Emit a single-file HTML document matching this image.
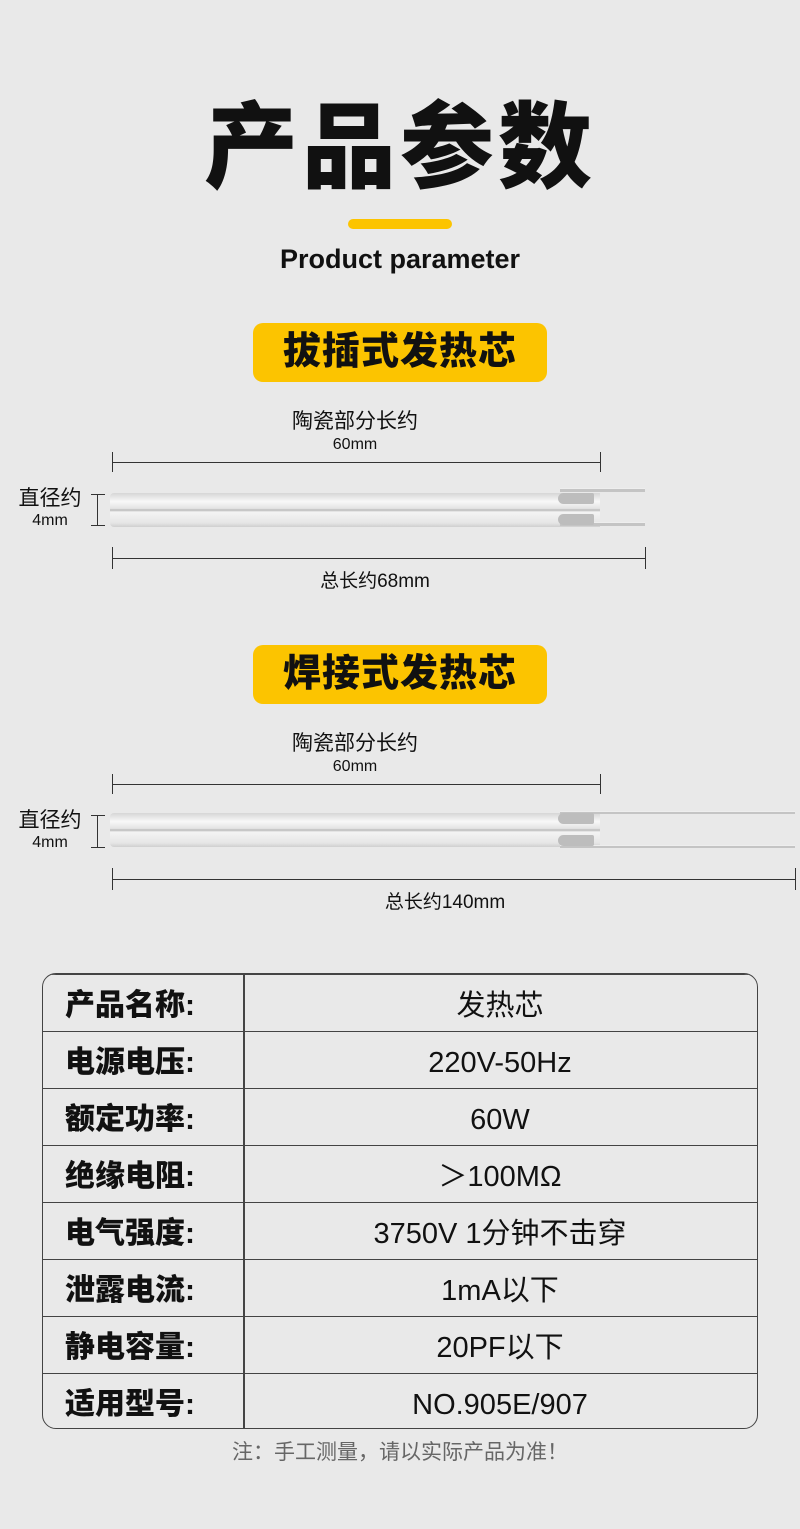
<!DOCTYPE html>
<html><head><meta charset="utf-8"><style>
body{margin:0;width:800px;height:1529px;background:#e9e9e9;position:relative;overflow:hidden;font-family:"Liberation Sans","Noto Sans CJK SC",sans-serif;color:#111}
.a{position:absolute}
.t{text-align:center}
.badge{position:absolute;left:253px;width:294px;height:59px;background:#fcc400;border-radius:10px;font-size:38px;font-weight:900;line-height:59px;text-align:center;letter-spacing:1px}
.hl{position:absolute;height:1px;background:#333}
.vl{position:absolute;width:1px;background:#333}
.rod{position:absolute;left:110px;width:490px;height:34px;background:linear-gradient(#d6d6d6,#f8f8f8 25%,#e2e2e2 46%,#b8b8b8 50%,#f4f4f4 56%,#e6e6e6 88%,#cfcfcf);border-radius:4px 0 0 4px}
.pin{position:absolute;height:3px;background:#c4c4c4;border-top:1px solid #eee}
.cap{position:absolute;width:36px;height:11px;background:#bdbdbd;border-radius:6px 2px 2px 6px}
.tbl{position:absolute;left:42px;top:973px;width:716px;height:456px;border:1.5px solid #444;border-radius:14px;box-sizing:border-box;overflow:hidden}
.row{position:absolute;left:0;width:100%;height:57px;border-top:1.5px solid #444;box-sizing:border-box}
.row:first-child{border-top:none}
.k{position:absolute;left:22px;top:3px;line-height:56px;font-size:30px;font-weight:900}
.v{position:absolute;left:200px;right:0;top:3px;line-height:56px;font-size:29px;text-align:center}
.div{position:absolute;left:200px;top:0;width:1.5px;height:100%;background:#444}
</style></head><body>
<div class="a t" style="left:0;width:800px;top:88px;font-size:94px;font-weight:900;line-height:120px;letter-spacing:4px">产品参数</div>
<div class="a" style="left:348px;top:219px;width:104px;height:10px;background:#fcc400;border-radius:5px"></div>
<div class="a t" style="left:0;width:800px;top:241px;font-size:27px;font-weight:bold;line-height:36px">Product parameter</div>

<div class="badge" style="top:323px">拔插式发热芯</div>
<div class="a t" style="left:255px;width:200px;top:408px;font-size:21px;line-height:28px">陶瓷部分长约</div>
<div class="a t" style="left:255px;width:200px;top:436px;font-size:16px">60mm</div>
<div class="hl" style="left:112px;top:462px;width:488px"></div>
<div class="vl" style="left:112px;top:452px;height:20px"></div>
<div class="vl" style="left:600px;top:452px;height:20px"></div>
<div class="a t" style="left:10px;width:80px;top:486px;font-size:21px;line-height:26px">直径约</div>
<div class="a t" style="left:10px;width:80px;top:512px;font-size:16px">4mm</div>
<div class="hl" style="left:91px;top:494px;width:14px"></div>
<div class="hl" style="left:91px;top:525px;width:14px"></div>
<div class="vl" style="left:97px;top:494px;height:31px"></div>
<div class="rod" style="top:493px"></div>
<div class="pin" style="left:560px;top:488px;width:85px"></div>
<div class="pin" style="left:560px;top:522px;width:85px"></div>
<div class="cap" style="left:558px;top:493px"></div>
<div class="cap" style="left:558px;top:514px"></div>
<div class="hl" style="left:112px;top:558px;width:534px"></div>
<div class="vl" style="left:112px;top:547px;height:22px"></div>
<div class="vl" style="left:645px;top:547px;height:22px"></div>
<div class="a t" style="left:275px;width:200px;top:570px;font-size:19px;line-height:24px">总长约68mm</div>

<div class="badge" style="top:645px">焊接式发热芯</div>
<div class="a t" style="left:255px;width:200px;top:730px;font-size:21px;line-height:28px">陶瓷部分长约</div>
<div class="a t" style="left:255px;width:200px;top:758px;font-size:16px">60mm</div>
<div class="hl" style="left:112px;top:784px;width:488px"></div>
<div class="vl" style="left:112px;top:774px;height:20px"></div>
<div class="vl" style="left:600px;top:774px;height:20px"></div>
<div class="a t" style="left:10px;width:80px;top:808px;font-size:21px;line-height:26px">直径约</div>
<div class="a t" style="left:10px;width:80px;top:834px;font-size:16px">4mm</div>
<div class="hl" style="left:91px;top:815px;width:14px"></div>
<div class="hl" style="left:91px;top:847px;width:14px"></div>
<div class="vl" style="left:97px;top:815px;height:32px"></div>
<div class="rod" style="top:813px"></div>
<div class="pin" style="left:560px;top:811px;width:235px;height:2px"></div>
<div class="pin" style="left:560px;top:845px;width:235px;height:2px"></div>
<div class="cap" style="left:558px;top:813px"></div>
<div class="cap" style="left:558px;top:835px"></div>
<div class="hl" style="left:112px;top:879px;width:684px"></div>
<div class="vl" style="left:112px;top:868px;height:22px"></div>
<div class="vl" style="left:795px;top:868px;height:22px"></div>
<div class="a t" style="left:345px;width:200px;top:891px;font-size:19px;line-height:24px">总长约140mm</div>

<div class="tbl">
<div class="div"></div>
<div class="row" style="top:0"><div class="k">产品名称:</div><div class="v">发热芯</div></div>
<div class="row" style="top:57px"><div class="k">电源电压:</div><div class="v">220V-50Hz</div></div>
<div class="row" style="top:114px"><div class="k">额定功率:</div><div class="v">60W</div></div>
<div class="row" style="top:171px"><div class="k">绝缘电阻:</div><div class="v">＞100MΩ</div></div>
<div class="row" style="top:228px"><div class="k">电气强度:</div><div class="v">3750V 1分钟不击穿</div></div>
<div class="row" style="top:285px"><div class="k">泄露电流:</div><div class="v">1mA以下</div></div>
<div class="row" style="top:342px"><div class="k">静电容量:</div><div class="v">20PF以下</div></div>
<div class="row" style="top:399px"><div class="k">适用型号:</div><div class="v">NO.905E/907</div></div>
</div>
<div class="a t" style="left:0;width:800px;top:1438px;font-size:21px;color:#666;line-height:30px">注：手工测量，请以实际产品为准！</div>
</body></html>
